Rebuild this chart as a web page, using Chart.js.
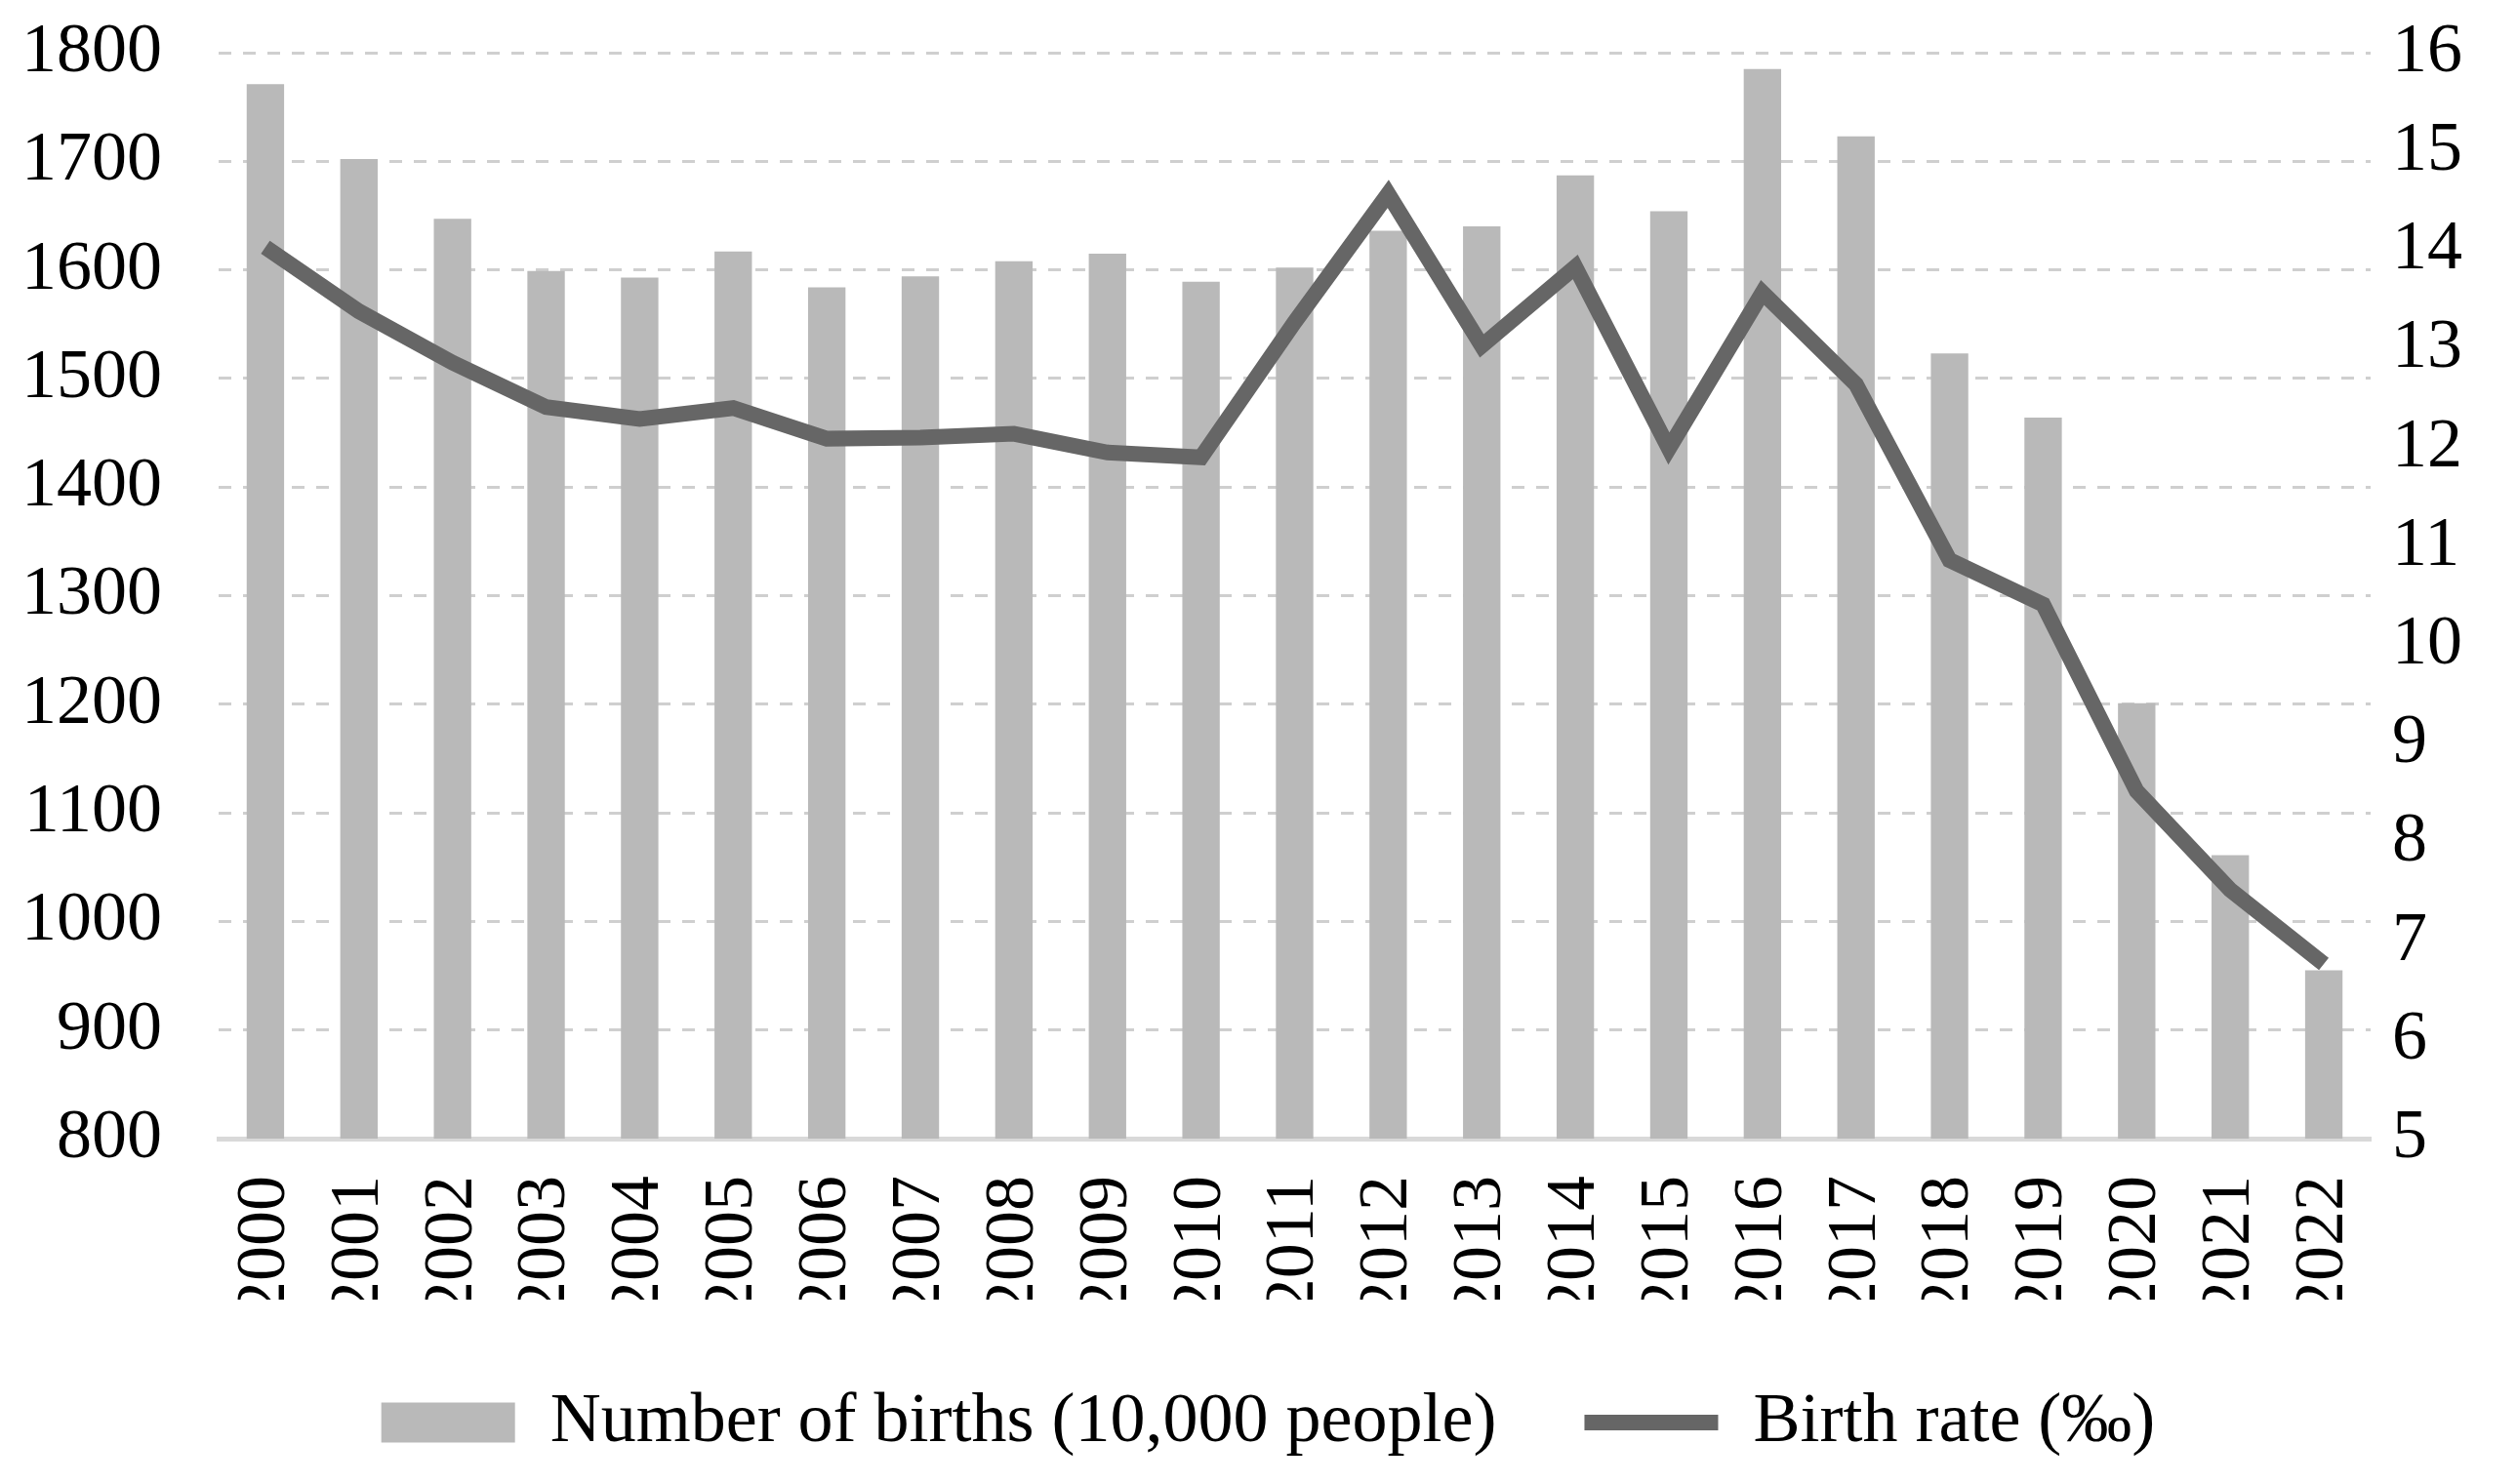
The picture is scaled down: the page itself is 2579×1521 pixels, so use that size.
<!DOCTYPE html>
<html>
<head>
<meta charset="utf-8">
<script src="https://cdn.jsdelivr.net/npm/chart.js@4/dist/chart.umd.min.js"></script>
<style>
    html, body { margin: 0; padding: 0; background: #ffffff; }
    #wrap { width: 2579px; height: 1521px; position: relative; }
</style>
</head>
<body>
<div id="wrap"><canvas id="births-chart"></canvas></div>
<script>
const years = ["2000", "2001", "2002", "2003", "2004", "2005", "2006", "2007", "2008", "2009", "2010",
    "2011", "2012", "2013", "2014", "2015", "2016", "2017", "2018", "2019", "2020", "2021", "2022"]
const births = [1771, 1702, 1647, 1599, 1593, 1617, 1584, 1594, 1608, 1615, 1589,
    1602, 1636, 1640, 1687, 1654, 1785, 1723, 1523, 1464, 1201, 1061, 955]
const birthRate = [14.03, 13.38, 12.86, 12.41, 12.29, 12.40, 12.09, 12.10, 12.14, 11.95, 11.90,
    13.27, 14.57, 13.03, 13.83, 11.99, 13.57, 12.64, 10.86, 10.41, 8.52, 7.52, 6.77]
const birthsTicks = [800, 900, 1000, 1100, 1200, 1300, 1400, 1500, 1600, 1700, 1800]
const rateTicks = [5, 6, 7, 8, 9, 10, 11, 12, 13, 14, 15, 16]

const seriesNames = ["Number of births (10,000 people)", "Birth rate (‰)"]
const barColor = "#b9b9b9"
const lineColor = "#666666"
const fontFamily = "'Liberation Serif', 'Times New Roman', serif"

const chartElement = document.getElementById("births-chart")

// fixed axis widths; drop the extra top padding that tick padding adds
function fitAxis(width) {
    return (scale) => {
        scale.width = width
        scale.paddingTop = 0
        scale.paddingBottom = 0
    }
}

new Chart(chartElement, {
    data: {
        labels: years,
        datasets: [
            {
                type: "line",
                label: seriesNames[1],
                data: birthRate,
                borderColor: lineColor,
                backgroundColor: lineColor,
                borderWidth: 16,
                pointRadius: 0,
                tension: 0,
                borderJoinStyle: "miter",
                yAxisID: "rate",
                order: 0,
            },
            {
                type: "bar",
                label: seriesNames[0],
                data: births,
                backgroundColor: barColor,
                borderWidth: 0,
                barPercentage: 0.4,
                categoryPercentage: 1,
                yAxisID: "births",
                order: 1,
            },
        ],
    },
    options: {
        responsive: true,
        maintainAspectRatio: false,
        animation: false,
        layout: {
            padding: { left: 20, right: 0, top: 54, bottom: 17 },
        },
        plugins: {
            tooltip: { enabled: false },
            legend: {
                position: "bottom",
                labels: {
                    color: "#000000",
                    font: { family: fontFamily, size: 72 },
                    usePointStyle: true,
                    pointStyleWidth: 137,
                    boxHeight: 41,
                    padding: 90,
                    generateLabels() {
                        return [
                            {
                                text: seriesNames[0],
                                fillStyle: barColor,
                                strokeStyle: barColor,
                                lineWidth: 0,
                                pointStyle: "rect",
                                datasetIndex: 1,
                            },
                            {
                                text: seriesNames[1],
                                fillStyle: lineColor,
                                strokeStyle: lineColor,
                                lineWidth: 16,
                                pointStyle: "line",
                                datasetIndex: 0,
                            },
                        ]
                    },
                },
            },
        },
        scales: {
            x: {
                grid: { display: false },
                border: { display: true, color: "#d9d9d9", width: 5 },
                ticks: {
                    color: "#000000",
                    font: { family: fontFamily, size: 72 },
                    minRotation: 90,
                    maxRotation: 90,
                    padding: 30,
                    autoSkip: false,
                },
                afterFit(scale) {
                    scale.height = 165
                },
            },
            births: {
                type: "linear",
                position: "left",
                min: birthsTicks[0],
                max: birthsTicks[birthsTicks.length - 1],
                afterBuildTicks(scale) {
                    scale.ticks = birthsTicks.map((value) => ({ value }))
                },
                grid: {
                    color: "#cfcfcf",
                    lineWidth: 3,
                    drawTicks: false,
                },
                border: { display: false, dash: [13, 12] },
                ticks: {
                    color: "#000000",
                    font: { family: fontFamily, size: 72 },
                    padding: 58,
                    callback(value) {
                        return String(value)
                    },
                },
                afterFit: fitAxis(204),
            },
            rate: {
                type: "linear",
                position: "right",
                min: rateTicks[0],
                max: rateTicks[rateTicks.length - 1],
                afterBuildTicks(scale) {
                    scale.ticks = rateTicks.map((value) => ({ value }))
                },
                grid: { drawOnChartArea: false, drawTicks: false },
                border: { display: false },
                ticks: {
                    color: "#000000",
                    font: { family: fontFamily, size: 72 },
                    padding: 22,
                },
                afterFit: fitAxis(150),
            },
        },
    },
})
</script>
</body>
</html>
